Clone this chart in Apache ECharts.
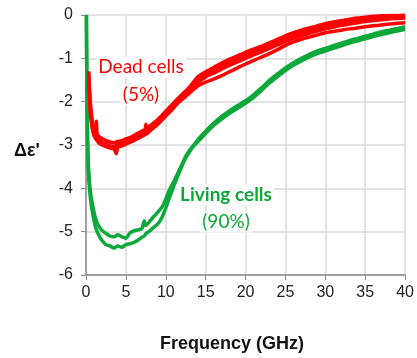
<!DOCTYPE html>
<html>
<head>
<meta charset="utf-8">
<script src="https://cdn.jsdelivr.net/npm/echarts@6/dist/echarts.min.js"></script>
<style>
  html, body { margin: 0; padding: 0; background: #fff; }
  #chart { width: 417px; height: 358px; }
</style>
</head>
<body>
<div id="chart"></div>
<script>
// frequency grid (GHz) for the living-cell traces
const freqGreen = [0.05, 0.1, 0.2, 0.35, 0.6, 0.9, 1.2, 1.6, 2.0, 2.5, 3.0, 3.5, 4.0, 4.5, 5.0, 5.5, 6.0, 6.5, 7.0, 7.3,
    7.5, 8.0, 8.5, 9.0, 9.5, 10, 10.5, 11, 11.5, 12, 12.5, 13, 13.5, 14, 15, 16, 17, 18, 19, 20,
    21, 22, 23, 24, 25, 26, 27, 28, 29, 30, 31, 32, 33, 34, 35, 36, 37, 38, 39, 40];
const livingA = [0, -1.5, -3.0, -3.8, -4.3, -4.65, -4.9, -5.08, -5.2, -5.3, -5.33, -5.38, -5.33, -5.36, -5.3, -5.28, -5.25, -5.2, -5.13, -5.1,
    -5.05, -4.98, -4.9, -4.82, -4.68, -4.45, -4.2, -3.95, -3.72, -3.5, -3.3, -3.15, -3.02, -2.93, -2.73, -2.55, -2.4, -2.27, -2.15, -2.04,
    -1.9, -1.74, -1.57, -1.42, -1.28, -1.16, -1.06, -0.97, -0.89, -0.83, -0.77, -0.71, -0.65, -0.6, -0.55, -0.5, -0.45, -0.41, -0.37, -0.33];
const livingB = [0, -1.4, -2.9, -3.65, -4.15, -4.45, -4.7, -4.87, -4.97, -5.04, -5.1, -5.12, -5.07, -5.12, -5.15, -5.03, -4.98, -4.96, -4.93, -4.75,
    -4.86, -4.76, -4.65, -4.55, -4.44, -4.25, -4.02, -3.85, -3.65, -3.46, -3.26, -3.12, -3.0, -2.88, -2.68, -2.5, -2.34, -2.21, -2.09, -1.98,
    -1.84, -1.68, -1.51, -1.36, -1.22, -1.1, -1.0, -0.91, -0.83, -0.77, -0.71, -0.65, -0.59, -0.54, -0.49, -0.44, -0.39, -0.35, -0.31, -0.27];

// frequency grid (GHz) for the dead-cell traces
const freqRed = [0.35, 0.45, 0.6, 0.8, 1.0, 1.2, 1.3, 1.4, 1.6, 2.0, 2.5, 3.0, 3.5, 3.8, 4.0, 4.5, 5.0, 5.5, 6.0, 6.5,
    7.0, 7.4, 7.5, 7.6, 8.0, 8.5, 9.0, 9.5, 10, 10.5, 11, 11.5, 12, 13, 14, 15, 16, 17, 18, 19,
    20, 21, 22, 23, 24, 25, 26, 27, 28, 29, 30, 31, 32, 33, 34, 35, 36, 37, 38, 39, 40];
const dead1 = [-1.3, -1.75, -2.15, -2.45, -2.62, -2.7, -2.72, -2.75, -2.8, -2.85, -2.9, -2.93, -2.95, -2.93, -2.92, -2.9, -2.86, -2.83, -2.78, -2.73,
    -2.68, -2.64, -2.62, -2.61, -2.56, -2.49, -2.41, -2.32, -2.22, -2.12, -2.03, -1.93, -1.84, -1.66, -1.43, -1.31, -1.21, -1.11, -1.02, -0.94,
    -0.86, -0.79, -0.72, -0.64, -0.56, -0.48, -0.41, -0.35, -0.3, -0.25, -0.2, -0.16, -0.13, -0.1, -0.07, -0.05, -0.03, -0.02, -0.01, -0.01, 0];
const dead2 = [-1.4, -1.85, -2.25, -2.55, -2.7, -2.78, -2.45, -2.82, -2.88, -2.94, -2.98, -3.02, -3.04, -3.0, -2.99, -2.96, -2.93, -2.89, -2.84, -2.79,
    -2.74, -2.7, -2.52, -2.67, -2.62, -2.55, -2.47, -2.38, -2.29, -2.19, -2.1, -2.0, -1.91, -1.72, -1.5, -1.37, -1.27, -1.17, -1.08, -1.0,
    -0.92, -0.85, -0.78, -0.7, -0.62, -0.54, -0.47, -0.41, -0.36, -0.31, -0.26, -0.22, -0.19, -0.16, -0.13, -0.1, -0.08, -0.06, -0.05, -0.04, -0.03];
const dead3 = [-1.5, -1.95, -2.35, -2.62, -2.78, -2.85, -2.88, -2.9, -2.95, -3.0, -3.04, -3.07, -3.09, -3.2, -3.05, -3.02, -2.98, -2.94, -2.9, -2.85,
    -2.8, -2.76, -2.75, -2.74, -2.68, -2.6, -2.52, -2.43, -2.33, -2.24, -2.14, -2.04, -1.95, -1.76, -1.56, -1.43, -1.34, -1.25, -1.16, -1.08,
    -1.0, -0.92, -0.85, -0.77, -0.69, -0.61, -0.54, -0.48, -0.42, -0.37, -0.32, -0.28, -0.24, -0.21, -0.18, -0.15, -0.13, -0.11, -0.09, -0.08, -0.07];
const dead4 = [-1.45, -1.9, -2.3, -2.6, -2.75, -2.82, -2.85, -2.87, -2.92, -2.97, -3.01, -3.04, -3.06, -3.05, -3.03, -3.0, -2.96, -2.92, -2.87, -2.82,
    -2.77, -2.73, -2.72, -2.71, -2.66, -2.58, -2.5, -2.41, -2.31, -2.22, -2.12, -2.03, -1.95, -1.8, -1.64, -1.55, -1.48, -1.4, -1.31, -1.22,
    -1.13, -1.05, -0.97, -0.89, -0.8, -0.7, -0.62, -0.56, -0.51, -0.46, -0.41, -0.38, -0.35, -0.32, -0.3, -0.27, -0.25, -0.23, -0.21, -0.19, -0.18];

const xTicks = { min: 0, max: 40, interval: 5 };
const yTicks = { min: -6, max: 0, interval: 1 };

const RED = '#ff0000';
const GREEN = '#0ca83a';

const pair = (xs, ys) => xs.map((x, i) => [x, ys[i]]);

const line = (name, xs, ys, color) => ({
    name,
    type: 'line',
    data: pair(xs, ys),
    symbol: 'none',
    smooth: 0.2,
    animation: false,
    z: 1,
    lineStyle: { color, width: 3.5 }
});

const note = (x, y, text, color, weight) => ({
    type: 'text', x, y, z: 100,
    style: {
        text, fill: color, font: weight + ' 19px Lato',
        align: 'center', verticalAlign: 'middle',
        backgroundColor: '#fff', padding: [1, 2]
    }
});

const chart = echarts.init(document.getElementById('chart'));

chart.setOption({
    animation: false,
    grid: { left: 86, right: 8, top: 15, bottom: 83 },
    xAxis: {
        type: 'value',
        min: xTicks.min,
        max: xTicks.max,
        interval: xTicks.interval,
        axisLine: { show: true, onZero: false, lineStyle: { color: '#8c8c8c', width: 1.5 } },
        axisTick: { show: true, length: 5, lineStyle: { color: '#8c8c8c' } },
        axisLabel: { color: '#222', fontSize: 16, fontFamily: 'Liberation Sans', margin: 10 },
        splitLine: { show: true, lineStyle: { color: '#d9d9d9', width: 1.5 } }
    },
    yAxis: {
        type: 'value',
        min: yTicks.min,
        max: yTicks.max,
        interval: yTicks.interval,
        axisLine: { show: true, onZero: false, lineStyle: { color: '#8c8c8c', width: 1.5 } },
        axisTick: { show: true, length: 5, lineStyle: { color: '#8c8c8c' } },
        axisLabel: { color: '#222', fontSize: 16, fontFamily: 'Liberation Sans', margin: 13 },
        splitLine: { show: true, lineStyle: { color: '#d9d9d9', width: 1.5 } }
    },
    graphic: [
        {
            type: 'text', x: 27, y: 151,
            style: { text: "Δε'", fill: '#111', font: 'bold 18px "Liberation Sans"', align: 'center', verticalAlign: 'middle' }
        },
        {
            type: 'text', x: 232, y: 344,
            style: { text: 'Frequency (GHz)', fill: '#111', font: 'bold 18px "Liberation Sans"', align: 'center', verticalAlign: 'middle' }
        },
        note(141, 67, 'Dead cells', RED, 'normal'),
        note(141, 95, '(5%)', RED, 'normal'),
        note(226, 195, 'Living cells', GREEN, 'bold'),
        note(226, 222, '(90%)', GREEN, 'normal')
    ],
    series: [
        line('Living cells A', freqGreen, livingA, GREEN),
        line('Living cells B', freqGreen, livingB, GREEN),
        line('Dead cells 1', freqRed, dead1, RED),
        line('Dead cells 2', freqRed, dead2, RED),
        line('Dead cells 3', freqRed, dead3, RED),
        line('Dead cells 4', freqRed, dead4, RED)
    ]
});
</script>
</body>
</html>
